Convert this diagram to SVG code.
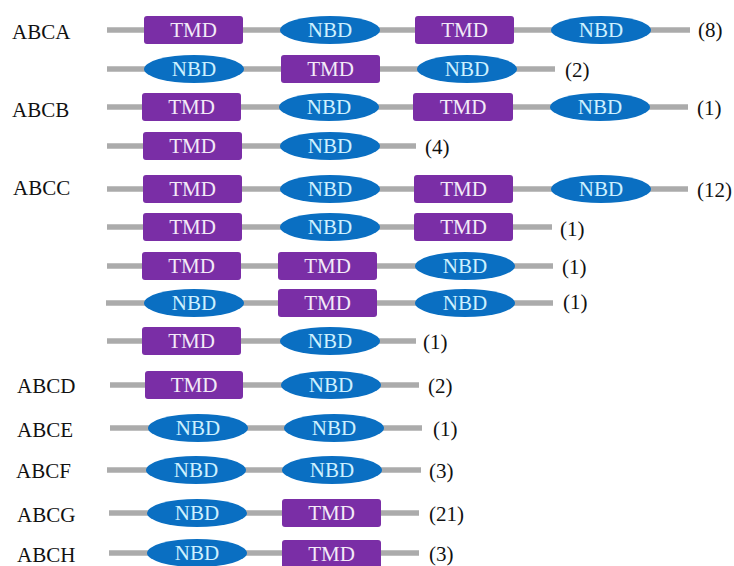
<svg xmlns="http://www.w3.org/2000/svg" width="734" height="566" viewBox="0 0 734 566">
  <style>
    text { font-family: "Liberation Serif", "Times New Roman", serif; font-size: 21px; }
    .fam, .cnt { fill: #111; }
    .tmd rect { fill: #7a2ea6; }
    .tmd text { fill: #f3eaf8; text-anchor: middle; }
    .nbd ellipse { fill: #0a6fc2; }
    .nbd text { fill: #cdf1ff; text-anchor: middle; }
    .link line { stroke: #ababab; stroke-width: 5.5; }
  </style>
  <rect width="734" height="566" fill="#ffffff"/>

  <!-- backbone lines of each protein -->
  <g id="connectors" class="link">
    <line x1="107" y1="30" x2="690" y2="30"/>
    <line x1="107" y1="69" x2="555" y2="69"/>
    <line x1="107" y1="107" x2="688" y2="107"/>
    <line x1="107" y1="146" x2="416" y2="146"/>
    <line x1="107" y1="189" x2="688" y2="189"/>
    <line x1="107" y1="227" x2="552" y2="227"/>
    <line x1="107" y1="266" x2="553" y2="266"/>
    <line x1="106" y1="303" x2="553" y2="303"/>
    <line x1="107" y1="341" x2="416" y2="341"/>
    <line x1="110" y1="385" x2="419" y2="385"/>
    <line x1="110" y1="428" x2="422" y2="428"/>
    <line x1="107" y1="470" x2="421" y2="470"/>
    <line x1="109" y1="513" x2="419" y2="513"/>
    <line x1="109" y1="553" x2="419" y2="553"/>
  </g>

  <!-- family labels -->
  <g id="families">
    <text class="fam" x="12" y="39">ABCA</text>
    <text class="fam" x="12" y="117">ABCB</text>
    <text class="fam" x="13" y="195">ABCC</text>
    <text class="fam" x="17" y="393">ABCD</text>
    <text class="fam" x="17" y="437">ABCE</text>
    <text class="fam" x="16" y="478">ABCF</text>
    <text class="fam" x="17" y="522">ABCG</text>
    <text class="fam" x="17" y="562">ABCH</text>
  </g>

  <!-- row 1 -->
  <g id="r1-tmd1" class="tmd"><rect x="144" y="16" width="99" height="28" rx="3"/><text x="193.5" y="37">TMD</text></g>
  <g id="r1-nbd1" class="nbd"><ellipse cx="330" cy="30" rx="50" ry="14"/><text x="330" y="37">NBD</text></g>
  <g id="r1-tmd2" class="tmd"><rect x="415" y="16" width="99" height="28" rx="3"/><text x="464.5" y="37">TMD</text></g>
  <g id="r1-nbd2" class="nbd"><ellipse cx="601" cy="30" rx="50" ry="14"/><text x="601" y="37">NBD</text></g>
  <text class="cnt" x="698" y="37">(8)</text>

  <!-- row 2 -->
  <g id="r2-nbd1" class="nbd"><ellipse cx="194" cy="69" rx="50" ry="14"/><text x="194" y="76">NBD</text></g>
  <g id="r2-tmd1" class="tmd"><rect x="281" y="55" width="99" height="28" rx="3"/><text x="330.5" y="76">TMD</text></g>
  <g id="r2-nbd2" class="nbd"><ellipse cx="467" cy="69" rx="50" ry="14"/><text x="467" y="76">NBD</text></g>
  <text class="cnt" x="565" y="77">(2)</text>

  <!-- row 3 -->
  <g id="r3-tmd1" class="tmd"><rect x="142" y="93" width="99" height="28" rx="3"/><text x="191.5" y="114">TMD</text></g>
  <g id="r3-nbd1" class="nbd"><ellipse cx="329" cy="107" rx="50" ry="14"/><text x="329" y="114">NBD</text></g>
  <g id="r3-tmd2" class="tmd"><rect x="413" y="93" width="100" height="28" rx="3"/><text x="463" y="114">TMD</text></g>
  <g id="r3-nbd2" class="nbd"><ellipse cx="600" cy="107" rx="50" ry="14"/><text x="600" y="114">NBD</text></g>
  <text class="cnt" x="697" y="115">(1)</text>

  <!-- row 4 -->
  <g id="r4-tmd1" class="tmd"><rect x="143" y="132" width="99" height="28" rx="3"/><text x="192.5" y="153">TMD</text></g>
  <g id="r4-nbd1" class="nbd"><ellipse cx="330" cy="146" rx="50" ry="14"/><text x="330" y="153">NBD</text></g>
  <text class="cnt" x="425" y="154">(4)</text>

  <!-- row 5 -->
  <g id="r5-tmd1" class="tmd"><rect x="143" y="175" width="99" height="28" rx="3"/><text x="192.5" y="196">TMD</text></g>
  <g id="r5-nbd1" class="nbd"><ellipse cx="330" cy="189" rx="50" ry="14"/><text x="330" y="196">NBD</text></g>
  <g id="r5-tmd2" class="tmd"><rect x="414" y="175" width="99" height="28" rx="3"/><text x="463.5" y="196">TMD</text></g>
  <g id="r5-nbd2" class="nbd"><ellipse cx="601" cy="189" rx="50" ry="14"/><text x="601" y="196">NBD</text></g>
  <text class="cnt" x="697" y="197">(12)</text>

  <!-- row 6 -->
  <g id="r6-tmd1" class="tmd"><rect x="143" y="213" width="99" height="28" rx="3"/><text x="192.5" y="234">TMD</text></g>
  <g id="r6-nbd1" class="nbd"><ellipse cx="330" cy="227" rx="50" ry="14"/><text x="330" y="234">NBD</text></g>
  <g id="r6-tmd2" class="tmd"><rect x="414" y="213" width="99" height="28" rx="3"/><text x="463.5" y="234">TMD</text></g>
  <text class="cnt" x="560" y="236">(1)</text>

  <!-- row 7 -->
  <g id="r7-tmd1" class="tmd"><rect x="142" y="252" width="99" height="28" rx="3"/><text x="191.5" y="273">TMD</text></g>
  <g id="r7-tmd2" class="tmd"><rect x="278" y="252" width="99" height="28" rx="3"/><text x="327.5" y="273">TMD</text></g>
  <g id="r7-nbd1" class="nbd"><ellipse cx="465" cy="266" rx="50" ry="14"/><text x="465" y="273">NBD</text></g>
  <text class="cnt" x="562" y="274">(1)</text>

  <!-- row 8 -->
  <g id="r8-nbd1" class="nbd"><ellipse cx="194" cy="303" rx="50" ry="14"/><text x="194" y="310">NBD</text></g>
  <g id="r8-tmd1" class="tmd"><rect x="278" y="289" width="99" height="28" rx="3"/><text x="327.5" y="310">TMD</text></g>
  <g id="r8-nbd2" class="nbd"><ellipse cx="465" cy="303" rx="50" ry="14"/><text x="465" y="310">NBD</text></g>
  <text class="cnt" x="563" y="309">(1)</text>

  <!-- row 9 -->
  <g id="r9-tmd1" class="tmd"><rect x="142" y="327" width="99" height="28" rx="3"/><text x="191.5" y="348">TMD</text></g>
  <g id="r9-nbd1" class="nbd"><ellipse cx="330" cy="341" rx="50" ry="14"/><text x="330" y="348">NBD</text></g>
  <text class="cnt" x="423" y="349">(1)</text>

  <!-- row 10 -->
  <g id="r10-tmd1" class="tmd"><rect x="145" y="371" width="98" height="28" rx="3"/><text x="194" y="392">TMD</text></g>
  <g id="r10-nbd1" class="nbd"><ellipse cx="331" cy="385" rx="50" ry="14"/><text x="331" y="392">NBD</text></g>
  <text class="cnt" x="428" y="393">(2)</text>

  <!-- row 11 -->
  <g id="r11-nbd1" class="nbd"><ellipse cx="198" cy="428" rx="50" ry="14"/><text x="198" y="435">NBD</text></g>
  <g id="r11-nbd2" class="nbd"><ellipse cx="334" cy="428" rx="50" ry="14"/><text x="334" y="435">NBD</text></g>
  <text class="cnt" x="433" y="436">(1)</text>

  <!-- row 12 -->
  <g id="r12-nbd1" class="nbd"><ellipse cx="196" cy="470" rx="50" ry="14"/><text x="196" y="477">NBD</text></g>
  <g id="r12-nbd2" class="nbd"><ellipse cx="332" cy="470" rx="50" ry="14"/><text x="332" y="477">NBD</text></g>
  <text class="cnt" x="429" y="478">(3)</text>

  <!-- row 13 -->
  <g id="r13-nbd1" class="nbd"><ellipse cx="197" cy="513" rx="50" ry="14"/><text x="197" y="520">NBD</text></g>
  <g id="r13-tmd1" class="tmd"><rect x="282" y="499" width="99" height="28" rx="3"/><text x="331.5" y="520">TMD</text></g>
  <text class="cnt" x="429" y="521">(21)</text>

  <!-- row 14 -->
  <g id="r14-nbd1" class="nbd"><ellipse cx="197" cy="553" rx="50" ry="14"/><text x="197" y="560">NBD</text></g>
  <g id="r14-tmd1" class="tmd"><rect x="282" y="540" width="99" height="28" rx="3"/><text x="331.5" y="561">TMD</text></g>
  <text class="cnt" x="429" y="561">(3)</text>
</svg>
